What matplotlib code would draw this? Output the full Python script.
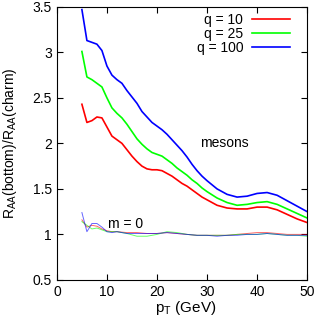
import matplotlib
matplotlib.use("Agg")
import matplotlib.pyplot as plt

plt.rcParams['font.family'] = ['Liberation Sans', 'DejaVu Sans']
plt.rcParams['mathtext.fontset'] = 'custom'
plt.rcParams['mathtext.rm'] = 'Liberation Sans'
plt.rcParams['mathtext.it'] = 'Liberation Sans:italic'

# meson curves (q values)
pt = [5, 6, 7, 8, 9, 10, 11, 12, 13, 14, 15, 16, 17, 18, 19, 20, 21, 22, 23,
      24, 25, 26, 27, 28, 29, 30, 32, 34, 36, 38, 40, 42, 44, 46, 48, 50]
ratio_q10 = [2.43, 2.23, 2.25, 2.29, 2.28, 2.18, 2.08, 2.04, 2.00, 1.93, 1.86,
             1.80, 1.75, 1.72, 1.71, 1.71, 1.70, 1.67, 1.64, 1.60, 1.56, 1.53,
             1.49, 1.45, 1.41, 1.38, 1.32, 1.29, 1.28, 1.28, 1.30, 1.30, 1.27,
             1.22, 1.17, 1.13]
ratio_q25 = [3.01, 2.73, 2.70, 2.66, 2.62, 2.50, 2.39, 2.33, 2.28, 2.21, 2.13,
             2.05, 1.99, 1.94, 1.90, 1.88, 1.86, 1.82, 1.78, 1.73, 1.69, 1.65,
             1.60, 1.56, 1.51, 1.47, 1.40, 1.35, 1.32, 1.33, 1.35, 1.36, 1.33,
             1.28, 1.23, 1.18]
ratio_q100 = [3.47, 3.13, 3.11, 3.09, 3.02, 2.85, 2.75, 2.70, 2.66, 2.58, 2.51,
              2.44, 2.35, 2.29, 2.23, 2.19, 2.15, 2.10, 2.04, 1.98, 1.92, 1.85,
              1.77, 1.70, 1.64, 1.59, 1.50, 1.44, 1.41, 1.42, 1.45, 1.46, 1.43,
              1.37, 1.31, 1.25]

# massless (m = 0) curves
pt0 = [5, 6, 7, 8, 9, 10, 11, 12, 14, 16, 18, 20, 22, 24, 26, 28, 30, 32,
       34, 36, 38, 40, 42, 44, 46, 48, 50]
m0_q10 = [1.16, 1.08, 1.10, 1.09, 1.06, 1.04, 1.03, 1.03, 1.02, 1.02, 1.01,
          1.01, 1.02, 1.01, 1.00, 0.99, 0.99, 0.99, 0.99, 1.00, 1.01, 1.02,
          1.02, 1.01, 1.00, 1.00, 1.00]
m0_q25 = [1.14, 1.10, 1.06, 1.07, 1.05, 1.03, 1.03, 1.03, 1.01, 0.98, 0.98,
          1.00, 1.03, 1.02, 1.00, 0.99, 0.99, 0.99, 0.99, 1.00, 1.00, 1.00,
          1.01, 1.00, 0.99, 0.99, 0.98]
m0_q100 = [1.24, 1.03, 1.12, 1.12, 1.08, 1.03, 1.02, 1.03, 1.01, 1.01, 1.01,
           1.01, 1.02, 1.01, 1.00, 0.99, 0.99, 0.98, 0.99, 0.99, 1.00, 1.00,
           1.01, 1.00, 0.99, 0.99, 0.99]

labels = ['q = 10', 'q = 25', 'q = 100']
colors = ['#ff0000', '#00ff00', '#0000ff']

fig = plt.figure(figsize=(3.16, 3.27), dpi=100)
ax = fig.add_axes([0.180, 0.144, 0.792, 0.835])

for y0, c in zip([m0_q10, m0_q25, m0_q100], colors):
    ax.plot(pt0, y0, color=c, linewidth=0.7, alpha=0.6)

for y, c, lab in zip([ratio_q10, ratio_q25, ratio_q100], colors, labels):
    ax.plot(pt, y, color=c, linewidth=1.2, label=lab)

ax.text(33.4, 2.0, 'mesons', ha='center', va='center', fontsize=10)
ax.text(10.2, 1.11, 'm = 0', ha='left', va='center', fontsize=10)

ax.set_xlim(0, 50)
ax.set_ylim(0.5, 3.5)
ax.set_xticks([0, 10, 20, 30, 40, 50])
ax.set_yticks([0.5, 1, 1.5, 2, 2.5, 3, 3.5])
ax.set_yticklabels(['0.5', '1', '1.5', '2', '2.5', '3', '3.5'])
ax.tick_params(direction='in', top=True, right=True, labelsize=10, length=4)
ax.set_xlabel(r'p$_{\rm T}$ (GeV)', fontsize=11)
ax.set_ylabel(r'R$_{\rm AA}$(bottom)/R$_{\rm AA}$(charm)', fontsize=10)
ax.xaxis.set_label_coords(0.515, -0.07)
ax.yaxis.set_label_coords(-0.152, 0.5)

ax.legend(loc='upper right', bbox_to_anchor=(0.932, 0.978), frameon=False,
          markerfirst=False, fontsize=10, handlelength=2.75, labelspacing=0.0,
          borderpad=0.0, borderaxespad=0.0, handletextpad=0.63)

fig.savefig('out.png', dpi=100)
